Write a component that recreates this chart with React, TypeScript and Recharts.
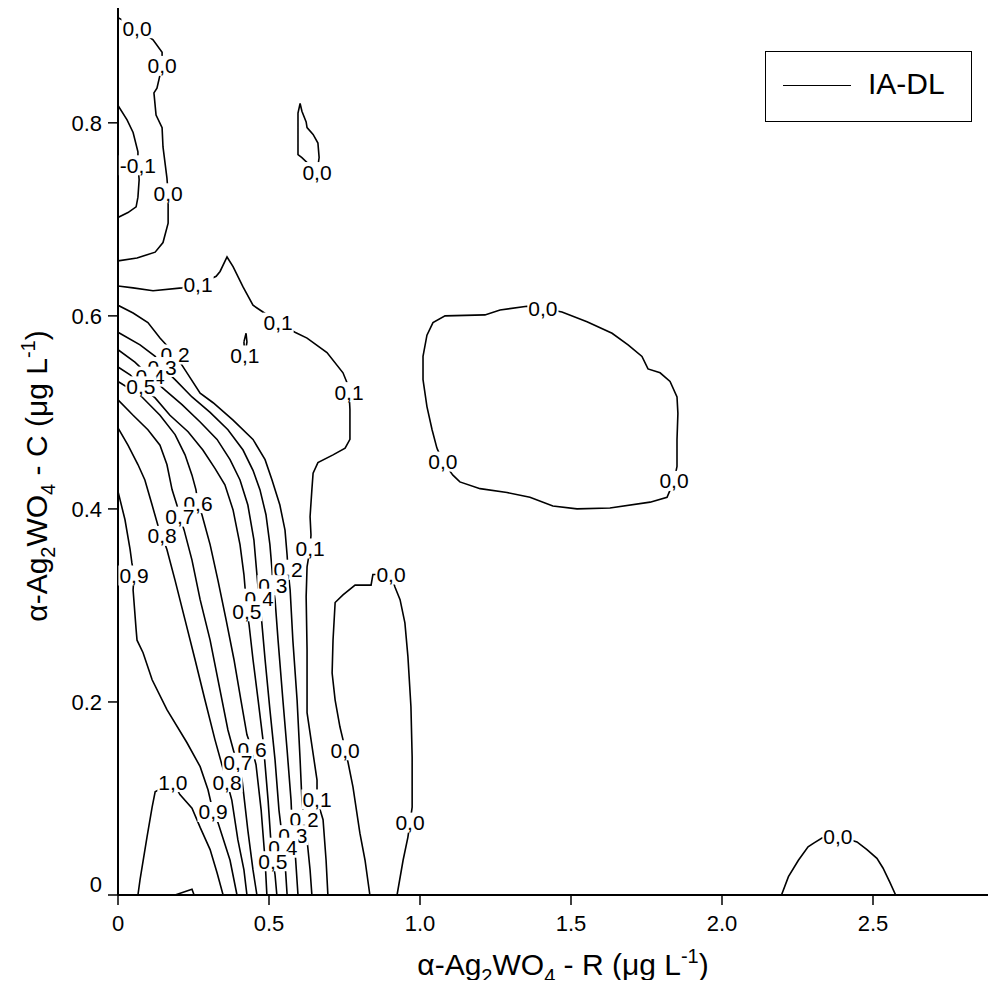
import React from 'react'
import { ComposedChart, Line, Scatter, XAxis, YAxis, ReferenceLine, Legend, Label } from 'recharts'

const FONT = '"Liberation Sans", Arial, sans-serif'

// vertex = [R, C] in µg/L; a third element of 1 marks where the level label is printed
type Vertex = number[]

const X_TICKS = [0, 0.5, 1.0, 1.5, 2.0, 2.5]
const Y_TICKS = [0, 0.2, 0.4, 0.6, 0.8]
const X_MAX = 3
const Y_MAX = 0.92

const LINE_NEG_01: Vertex[] = [
  [0, 0.818], [0.03, 0.803], [0.05, 0.79], [0.066, 0.77], [0.066, 0.756, 1], [0.07, 0.741],
  [0.066, 0.723], [0.06, 0.713], [0.033, 0.707], [0, 0.702],
]

const LINE_00_CORNER: Vertex[] = [
  [0, 0.909], [0.063, 0.898, 1], [0.116, 0.886], [0.146, 0.873], [0.146, 0.859, 1], [0.129, 0.836],
  [0.119, 0.831], [0.126, 0.808], [0.146, 0.795], [0.149, 0.775], [0.162, 0.743], [0.166, 0.727, 1],
  [0.166, 0.717], [0.166, 0.696], [0.149, 0.676], [0.123, 0.666], [0.063, 0.66], [0, 0.657],
]

const LINE_00_PEAK: Vertex[] = [
  [0.603, 0.82], [0.596, 0.81], [0.596, 0.767], [0.609, 0.764], [0.659, 0.749, 1], [0.666, 0.764],
  [0.662, 0.779], [0.646, 0.788], [0.626, 0.795], [0.623, 0.801], [0.609, 0.812], [0.603, 0.82],
]

const LINE_00_ISLAND: Vertex[] = [
  [1.056, 0.463], [1.04, 0.482], [1.023, 0.506], [1.01, 0.534], [1.01, 0.558], [1.023, 0.58],
  [1.043, 0.593], [1.083, 0.6], [1.215, 0.601], [1.265, 0.606], [1.354, 0.61], [1.407, 0.608, 1],
  [1.47, 0.604], [1.553, 0.594], [1.636, 0.582], [1.689, 0.57], [1.735, 0.558], [1.755, 0.545],
  [1.795, 0.541], [1.828, 0.532], [1.851, 0.516], [1.854, 0.499], [1.851, 0.472], [1.851, 0.444],
  [1.841, 0.429, 1], [1.818, 0.412], [1.762, 0.407], [1.629, 0.401], [1.52, 0.4], [1.44, 0.403],
  [1.364, 0.412], [1.288, 0.417], [1.199, 0.421], [1.132, 0.428], [1.109, 0.435], [1.076, 0.449, 1],
  [1.056, 0.463],
]

const LINE_00_VALLEY: Vertex[] = [
  [0.834, 0], [0.818, 0.036], [0.801, 0.064], [0.778, 0.112], [0.762, 0.137], [0.752, 0.15, 1],
  [0.745, 0.161], [0.735, 0.174], [0.719, 0.202], [0.709, 0.23], [0.712, 0.264], [0.719, 0.303],
  [0.745, 0.311], [0.785, 0.321], [0.838, 0.321], [0.844, 0.332], [0.904, 0.332, 1], [0.917, 0.319],
  [0.934, 0.306], [0.95, 0.282], [0.96, 0.247], [0.97, 0.195], [0.974, 0.143], [0.974, 0.091],
  [0.967, 0.075, 1], [0.96, 0.06], [0.944, 0.036], [0.924, 0],
]

const LINE_00_BUMP: Vertex[] = [
  [2.197, 0], [2.22, 0.019], [2.253, 0.036], [2.285, 0.05], [2.305, 0.054], [2.331, 0.059],
  [2.384, 0.061, 1], [2.447, 0.055], [2.48, 0.047], [2.513, 0.038], [2.533, 0.028], [2.556, 0.013],
  [2.575, 0],
]

const LINE_01: Vertex[] = [
  [0, 0.631], [0.05, 0.629], [0.116, 0.626], [0.212, 0.629], [0.265, 0.632, 1], [0.325, 0.641],
  [0.338, 0.646], [0.361, 0.661], [0.381, 0.651], [0.414, 0.63], [0.447, 0.611], [0.48, 0.604],
  [0.53, 0.593, 1], [0.586, 0.583], [0.626, 0.577], [0.692, 0.562], [0.745, 0.541], [0.758, 0.531],
  [0.765, 0.521, 1], [0.768, 0.503], [0.768, 0.472], [0.752, 0.463], [0.712, 0.456], [0.662, 0.448],
  [0.646, 0.437], [0.642, 0.42], [0.636, 0.392], [0.639, 0.373], [0.636, 0.359, 1], [0.626, 0.34],
  [0.623, 0.309], [0.626, 0.254], [0.626, 0.189], [0.642, 0.155], [0.659, 0.119], [0.659, 0.099, 1],
  [0.679, 0.078], [0.689, 0.036], [0.695, 0],
]

const LINE_01_SPIKE: Vertex[] = [
  [0.417, 0.573], [0.424, 0.582], [0.427, 0.573], [0.42, 0.559, 1], [0.417, 0.573],
]

const LINE_02: Vertex[] = [
  [0, 0.611], [0.05, 0.603], [0.099, 0.593], [0.139, 0.577], [0.189, 0.56, 1], [0.222, 0.544],
  [0.272, 0.52], [0.315, 0.51], [0.381, 0.492], [0.447, 0.472], [0.487, 0.451], [0.51, 0.43],
  [0.536, 0.404], [0.553, 0.378], [0.56, 0.352], [0.563, 0.337, 1], [0.57, 0.316], [0.579, 0.264],
  [0.593, 0.202], [0.603, 0.14], [0.609, 0.098], [0.616, 0.078, 1], [0.626, 0.057], [0.636, 0.026],
  [0.642, 0],
]

const LINE_03: Vertex[] = [
  [0, 0.583], [0.073, 0.57], [0.123, 0.558], [0.146, 0.547, 1], [0.189, 0.534], [0.245, 0.516],
  [0.305, 0.5], [0.364, 0.482], [0.414, 0.461], [0.447, 0.44], [0.47, 0.42], [0.49, 0.394],
  [0.503, 0.363], [0.51, 0.337], [0.513, 0.321, 1], [0.52, 0.306], [0.53, 0.264], [0.546, 0.202],
  [0.56, 0.15], [0.573, 0.098], [0.576, 0.076], [0.579, 0.062, 1], [0.586, 0.047], [0.596, 0],
]

const LINE_04: Vertex[] = [
  [0, 0.565], [0.056, 0.552], [0.106, 0.537, 1], [0.156, 0.523], [0.212, 0.508], [0.272, 0.49],
  [0.328, 0.472], [0.371, 0.451], [0.404, 0.43], [0.43, 0.404], [0.45, 0.368], [0.46, 0.332],
  [0.467, 0.307, 1], [0.474, 0.29], [0.487, 0.244], [0.503, 0.192], [0.52, 0.14], [0.533, 0.088],
  [0.543, 0.062], [0.546, 0.049, 1], [0.553, 0.034], [0.56, 0],
]

const LINE_05: Vertex[] = [
  [0, 0.547], [0.04, 0.539], [0.076, 0.527, 1], [0.123, 0.515], [0.172, 0.497], [0.232, 0.48],
  [0.281, 0.461], [0.321, 0.442], [0.354, 0.425], [0.381, 0.399], [0.404, 0.363], [0.417, 0.332],
  [0.424, 0.306], [0.427, 0.294, 1], [0.434, 0.28], [0.447, 0.244], [0.464, 0.202], [0.48, 0.161],
  [0.497, 0.098], [0.507, 0.052], [0.513, 0.035, 1], [0.52, 0.021], [0.526, 0],
]

const LINE_06: Vertex[] = [
  [0, 0.532], [0.073, 0.518], [0.139, 0.497], [0.189, 0.477], [0.222, 0.456], [0.245, 0.435],
  [0.258, 0.42], [0.265, 0.406, 1], [0.278, 0.394], [0.305, 0.363], [0.331, 0.326], [0.358, 0.285],
  [0.384, 0.244], [0.407, 0.202], [0.427, 0.166], [0.444, 0.151, 1], [0.457, 0.135], [0.474, 0.088],
  [0.487, 0.036], [0.493, 0],
]

const LINE_07: Vertex[] = [
  [0, 0.513], [0.05, 0.497], [0.099, 0.482], [0.139, 0.466], [0.162, 0.446], [0.179, 0.42],
  [0.195, 0.404], [0.205, 0.392, 1], [0.219, 0.378], [0.245, 0.347], [0.272, 0.306], [0.305, 0.264],
  [0.338, 0.212], [0.364, 0.171], [0.384, 0.148], [0.397, 0.137, 1], [0.411, 0.119], [0.43, 0.067],
  [0.447, 0.026], [0.46, 0],
]

const LINE_08: Vertex[] = [
  [0, 0.484], [0.033, 0.466], [0.066, 0.446], [0.089, 0.43], [0.113, 0.404], [0.132, 0.383],
  [0.146, 0.372, 1], [0.162, 0.358], [0.189, 0.326], [0.222, 0.285], [0.255, 0.244], [0.288, 0.202],
  [0.321, 0.161], [0.344, 0.135], [0.361, 0.117, 1], [0.377, 0.098], [0.397, 0.057], [0.417, 0.026],
  [0.427, 0],
]

const LINE_09: Vertex[] = [
  [0, 0.418], [0.023, 0.389], [0.04, 0.358], [0.046, 0.344], [0.053, 0.331, 1], [0.05, 0.316],
  [0.06, 0.275], [0.063, 0.264], [0.083, 0.251], [0.113, 0.223], [0.162, 0.192], [0.228, 0.158],
  [0.272, 0.133], [0.298, 0.109], [0.315, 0.086, 1], [0.331, 0.075], [0.371, 0.036], [0.394, 0],
]

const LINE_10: Vertex[] = [
  [0.066, 0], [0.073, 0.016], [0.096, 0.06], [0.113, 0.091], [0.123, 0.107], [0.182, 0.117, 1],
  [0.205, 0.104], [0.245, 0.09], [0.272, 0.07], [0.305, 0.047], [0.328, 0.023], [0.348, 0],
]

const LINE_11: Vertex[] = [[0.189, 0], [0.245, 0.006], [0.252, 0]]

const CONTOURS: { level: number; path: Vertex[] }[] = [
  { level: -0.1, path: LINE_NEG_01 },
  { level: 0.0, path: LINE_00_CORNER },
  { level: 0.0, path: LINE_00_PEAK },
  { level: 0.0, path: LINE_00_ISLAND },
  { level: 0.0, path: LINE_00_VALLEY },
  { level: 0.0, path: LINE_00_BUMP },
  { level: 0.1, path: LINE_01 },
  { level: 0.1, path: LINE_01_SPIKE },
  { level: 0.2, path: LINE_02 },
  { level: 0.3, path: LINE_03 },
  { level: 0.4, path: LINE_04 },
  { level: 0.5, path: LINE_05 },
  { level: 0.6, path: LINE_06 },
  { level: 0.7, path: LINE_07 },
  { level: 0.8, path: LINE_08 },
  { level: 0.9, path: LINE_09 },
  { level: 1.0, path: LINE_10 },
  { level: 1.1, path: LINE_11 },
]

const fmtLevel = (v: number) => v.toFixed(1).replace('.', ',')
const fmtTick = (v: number) => (v === 0 ? '0' : v.toFixed(1))

// labels further down are painted last so their white boxes overlap the ones above
const LABELS = CONTOURS.flatMap((c) =>
  c.path.filter((p) => p[2] === 1).map((p) => ({ x: p[0], y: p[1], text: fmtLevel(c.level) }))
).sort((a, b) => b.y - a.y)

const LEVEL_FONT = 21

function LevelLabel(props: any) {
  const { cx, cy, payload } = props
  const text: string = payload.text
  const w = (text.startsWith('-') ? 1.723 : 1.39) * LEVEL_FONT
  return (
    <g>
      <rect x={cx - w / 2 - 1} y={cy - 10} width={w + 2} height={20} fill="#fff" />
      <text x={cx} y={cy + 7.5} textAnchor="middle" fontSize={LEVEL_FONT} fontFamily={FONT} fill="#000">
        {text}
      </text>
    </g>
  )
}

function YTick(props: any) {
  const { x, y, payload } = props
  return (
    <text x={x} y={y + (payload.value === 0 ? -11 : 0)} dy="0.355em" textAnchor="end" fontSize={22} fontFamily={FONT} fill="#000">
      {fmtTick(payload.value)}
    </text>
  )
}

function AxisTitle({ letter, vertical }: { letter: string; vertical?: boolean }) {
  const transform = vertical ? 'translate(47,476) rotate(-90)' : 'translate(563,975)'
  return (
    <text transform={transform} textAnchor="middle" fontSize={30} fontFamily={FONT} fill="#000">
      <tspan>α-Ag</tspan>
      <tspan fontSize={20} dy={8}>2</tspan>
      <tspan dy={-8}>WO</tspan>
      <tspan fontSize={20} dy={8}>4</tspan>
      <tspan dy={-8}>{` - ${letter} (μg L`}</tspan>
      <tspan fontSize={20} dy={-12}>-1</tspan>
      <tspan dy={12}>)</tspan>
    </text>
  )
}

function LegendBox() {
  return (
    <div style={{ width: 207, height: 71, boxSizing: 'border-box', border: '1.5px solid #000', background: '#fff', position: 'relative', fontFamily: FONT }}>
      <div style={{ position: 'absolute', left: 17, top: 33, width: 68, borderTop: '1.5px solid #000' }} />
      <span style={{ position: 'absolute', left: 102, top: 17, fontSize: 30, lineHeight: '30px', color: '#000' }}>IA-DL</span>
    </div>
  )
}

export default function App() {
  return (
    <div style={{ margin: -8, width: 996, height: 988, overflow: 'hidden', background: '#fff' }}>
      <ComposedChart width={1034} height={988} margin={{ top: 7, right: 10, bottom: 0, left: 0 }}>
        <XAxis
          type="number"
          dataKey="x"
          domain={[0, X_MAX]}
          ticks={X_TICKS}
          tickFormatter={fmtTick}
          allowDataOverflow
          height={93}
          tickSize={10}
          tickMargin={10}
          axisLine={{ stroke: '#000', strokeWidth: 2 }}
          tickLine={{ stroke: '#000', strokeWidth: 1.5 }}
          tick={{ fill: '#000', fontSize: 22, fontFamily: FONT }}
        >
          <Label content={() => <AxisTitle letter="R" />} />
        </XAxis>
        <YAxis
          type="number"
          dataKey="y"
          domain={[0, Y_MAX]}
          ticks={Y_TICKS}
          allowDataOverflow
          width={118}
          tickSize={10}
          tickMargin={6}
          axisLine={{ stroke: '#000', strokeWidth: 2 }}
          tickLine={{ stroke: '#000', strokeWidth: 1.5 }}
          tick={<YTick />}
        >
          <Label content={() => <AxisTitle letter="C" vertical />} />
        </YAxis>
        <ReferenceLine y={Y_MAX} stroke="#000" strokeWidth={2} />
        {CONTOURS.map((c, i) => (
          <Line
            key={i}
            name="IA-DL"
            data={c.path.map((p) => ({ x: p[0], y: p[1] }))}
            dataKey="y"
            type="linear"
            stroke="#000"
            strokeWidth={1.6}
            dot={false}
            activeDot={false}
            legendType="line"
            isAnimationActive={false}
          />
        ))}
        <Scatter data={LABELS} dataKey="y" shape={LevelLabel} legendType="none" isAnimationActive={false} />
        <Legend
          layout="horizontal"
          verticalAlign="middle"
          align="center"
          content={() => <LegendBox />}
          wrapperStyle={{ left: 765, top: 51, width: 207, height: 71 }}
        />
      </ComposedChart>
    </div>
  )
}
